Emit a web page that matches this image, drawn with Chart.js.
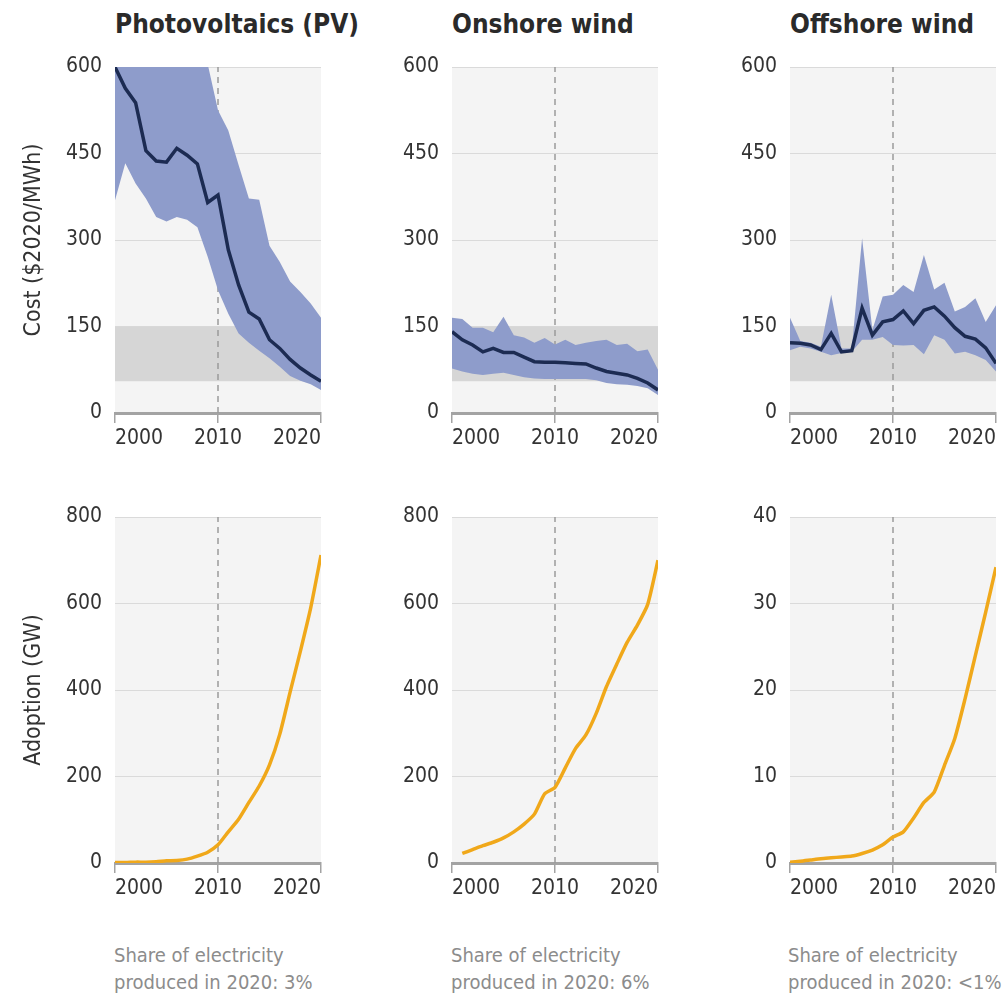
<!DOCTYPE html>
<html>
<head>
<meta charset="utf-8">
<script src="https://cdn.jsdelivr.net/npm/chart.js@4.4.1/dist/chart.umd.min.js"></script>
<style>
  body { margin: 0; background: #fff; width: 1007px; height: 995px; position: relative; overflow: hidden;
         font-family: 'Liberation Sans Narrow', 'DejaVu Sans Condensed', sans-serif; }
  .box { position: absolute; width: 329px; height: 426px; }
  .title { position: absolute; top: 9px; font-weight: bold; font-size: 26px; color: #2a2a2a; white-space: nowrap; }
  .note { position: absolute; top: 942px; font-size: 20px; line-height: 27px; color: #8c8c8c; white-space: nowrap; }
</style>
</head>
<body>
<div class="title" style="left:115px">Photovoltaics (PV)</div>
<div class="title" style="left:452px">Onshore wind</div>
<div class="title" style="left:790px">Offshore wind</div>

<div class="box" style="left:0px;top:37px"><canvas id="pvCost" width="329" height="426"></canvas></div>
<div class="box" style="left:337px;top:37px"><canvas id="onCost" width="329" height="426"></canvas></div>
<div class="box" style="left:675px;top:37px"><canvas id="offCost" width="329" height="426"></canvas></div>
<div class="box" style="left:0px;top:487px"><canvas id="pvAdopt" width="329" height="426"></canvas></div>
<div class="box" style="left:337px;top:487px"><canvas id="onAdopt" width="329" height="426"></canvas></div>
<div class="box" style="left:675px;top:487px"><canvas id="offAdopt" width="329" height="426"></canvas></div>

<div class="note" style="left:114px">Share of electricity<br>produced in 2020: 3%</div>
<div class="note" style="left:451px">Share of electricity<br>produced in 2020: 6%</div>
<div class="note" style="left:788px">Share of electricity<br>produced in 2020: &lt;1%</div>

<script>
// years and tick labels
const years = [2000, 2001, 2002, 2003, 2004, 2005, 2006, 2007, 2008, 2009, 2010,
               2011, 2012, 2013, 2014, 2015, 2016, 2017, 2018, 2019, 2020];
const onAdoptYears = [2001, 2002, 2003, 2004, 2005, 2006, 2007, 2008, 2009, 2010,
                      2011, 2012, 2013, 2014, 2015, 2016, 2017, 2018, 2019, 2020];
const xTicks = [2000, 2010, 2020];
const markerYear = 2010;
const costTicks = [0, 150, 300, 450, 600];
const gwTicks = [0, 200, 400, 600, 800];
const offGwTicks = [0, 10, 20, 30, 40];

// fossil fuel cost range ($2020/MWh)
const fossilRange = [55, 150];

// unit cost ($2020/MWh): mean, upper and lower range
const pvCost     = [600, 563, 538, 455, 437, 435, 459, 447, 432, 365, 378, 283, 222, 175, 163, 127, 112, 93, 78, 66, 55];
const pvCostHigh = [760, 760, 760, 760, 760, 760, 760, 740, 700, 605, 525, 490, 430, 372, 370, 290, 262, 228, 210, 190, 165];
const pvCostLow  = [369, 433, 398, 372, 340, 332, 340, 335, 322, 271, 213, 172, 138, 122, 108, 95, 80, 64, 56, 50, 40];

const onCost     = [141, 127, 118, 106, 112, 105, 105, 97, 89, 88, 88, 87, 86, 85, 78, 72, 69, 66, 60, 52, 40];
const onCostHigh = [165, 163, 148, 148, 140, 167, 135, 131, 122, 130, 119, 127, 118, 122, 125, 127, 118, 120, 107, 110, 75];
const onCostLow  = [77, 72, 68, 66, 68, 70, 66, 62, 60, 59, 59, 59, 59, 59, 57, 52, 50, 49, 47, 43, 31];

const offCost     = [122, 121, 118, 110, 138, 106, 108, 182, 135, 158, 162, 177, 155, 178, 184, 168, 148, 133, 128, 113, 86];
const offCostHigh = [165, 125, 122, 115, 205, 112, 112, 303, 144, 202, 205, 222, 210, 274, 214, 226, 176, 184, 199, 158, 187];
const offCostLow  = [109, 115, 112, 106, 100, 104, 106, 127, 127, 132, 118, 117, 118, 102, 135, 127, 103, 106, 100, 92, 72];

// adoption (GW)
const pvAdopt  = [1, 1, 2, 2, 3, 5, 6, 9, 16, 25, 42, 72, 101, 140, 178, 227, 298, 395, 490, 590, 712];
const onAdopt  = [22, 31, 40, 48, 58, 72, 90, 113, 160, 175, 220, 265, 296, 346, 408, 460, 510, 550, 598, 700];
const offAdopt = [0.1, 0.2, 0.35, 0.5, 0.6, 0.7, 0.8, 1.1, 1.5, 2.1, 3.0, 3.6, 5.2, 7.0, 8.2, 11.3, 14.4, 19, 24, 29, 34.2];

const FONT = "'Liberation Sans Narrow', 'DejaVu Sans Condensed', sans-serif";
Chart.defaults.font.family = FONT;
Chart.defaults.color = '#333';

const BAND = '#8e9ccb';
const NAVY = '#1c2b52';
const ORANGE = '#f0a81a';
const FOSSIL = '#d6d6d6';

const pts = (xs, ys) => xs.map((x, i) => ({ x: x, y: ys[i] }));

const plotBg = {
  id: 'plotBg',
  beforeDraw(chart) {
    const { ctx, chartArea: a } = chart;
    ctx.save();
    ctx.fillStyle = '#f4f4f4';
    ctx.fillRect(a.left, a.top, a.right - a.left, a.bottom - a.top);
    ctx.restore();
  }
};

function markerLine(yMax) {
  return {
    data: [{ x: markerYear, y: 0 }, { x: markerYear, y: yMax }],
    borderColor: '#9a9a9a', borderWidth: 1.5, borderDash: [6, 5],
    pointRadius: 0, fill: false
  };
}

function makeChart(id, datasets, yMax, yTicks, yTitle) {
  new Chart(document.getElementById(id), {
    type: 'line',
    data: { datasets },
    options: {
      responsive: false,
      animation: false,
      devicePixelRatio: 1,
      layout: { padding: { top: 30, right: 8, bottom: 0, left: 0 } },
      plugins: { legend: { display: false }, tooltip: { enabled: false } },
      scales: {
        x: {
          type: 'linear', min: xTicks[0], max: xTicks[xTicks.length - 1],
          afterBuildTicks: ax => { ax.ticks = xTicks.map(v => ({ value: v })); },
          afterFit: s => { s.height = 50; },
          grid: { drawOnChartArea: false, drawTicks: true, tickLength: 10, color: '#a3a3a3', lineWidth: 1.5 },
          border: { display: true, color: '#a3a3a3', width: 3 },
          ticks: { align: 'inner', padding: 3, autoSkip: false, maxRotation: 0,
                   font: { size: 21 }, color: '#333', callback: v => String(v) }
        },
        y: {
          min: 0, max: yMax,
          afterBuildTicks: ax => { ax.ticks = yTicks.map(v => ({ value: v })); },
          afterFit: s => { s.width = 115; },
          grid: { color: '#dadada', lineWidth: 1, drawTicks: false },
          border: { display: false },
          ticks: { padding: 13, font: { size: 21 }, color: '#333' },
          title: { display: !!yTitle, text: yTitle || '', font: { size: 23 }, color: '#333',
                   padding: { top: 20, bottom: 0 } }
        }
      }
    },
    plugins: [plotBg]
  });
}

function costDatasets(mean, high, low) {
  // index 0 drawn on top
  return [
    { data: pts(years, mean), borderColor: NAVY, borderWidth: 3.5, pointRadius: 0, fill: false },
    { data: pts(years, high), borderWidth: 0, borderColor: 'rgba(0,0,0,0)', pointRadius: 0,
      fill: '+1', backgroundColor: BAND },
    { data: pts(years, low), borderWidth: 0, borderColor: 'rgba(0,0,0,0)', pointRadius: 0, fill: false },
    markerLine(costTicks[costTicks.length - 1]),
    { data: pts([years[0], years[years.length - 1]], [fossilRange[1], fossilRange[1]]),
      borderWidth: 0, borderColor: 'rgba(0,0,0,0)', pointRadius: 0, fill: '+1', backgroundColor: FOSSIL },
    { data: pts([years[0], years[years.length - 1]], [fossilRange[0], fossilRange[0]]),
      borderWidth: 0, borderColor: 'rgba(0,0,0,0)', pointRadius: 0, fill: false }
  ];
}

function adoptDatasets(xs, ys, yMax) {
  return [
    { data: pts(xs, ys), borderColor: ORANGE, borderWidth: 3.5, pointRadius: 0, fill: false, tension: 0.2 },
    markerLine(yMax)
  ];
}

makeChart('pvCost', costDatasets(pvCost, pvCostHigh, pvCostLow), 600, costTicks, 'Cost ($2020/MWh)');
makeChart('onCost', costDatasets(onCost, onCostHigh, onCostLow), 600, costTicks);
makeChart('offCost', costDatasets(offCost, offCostHigh, offCostLow), 600, costTicks);

makeChart('pvAdopt', adoptDatasets(years, pvAdopt, 800), 800, gwTicks, 'Adoption (GW)');
makeChart('onAdopt', adoptDatasets(onAdoptYears, onAdopt, 800), 800, gwTicks);
makeChart('offAdopt', adoptDatasets(years, offAdopt, 40), 40, offGwTicks);
</script>
</body>
</html>
